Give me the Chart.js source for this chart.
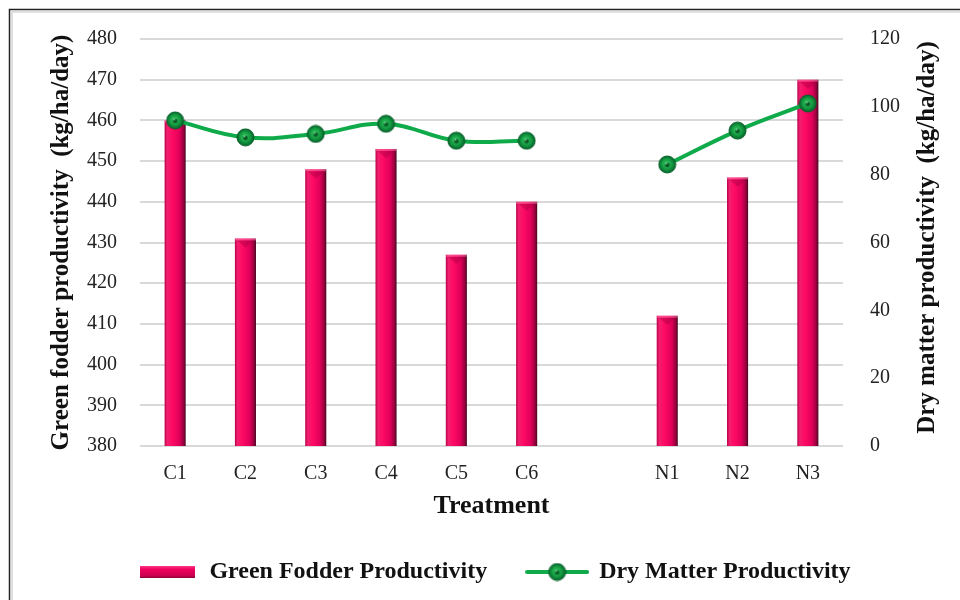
<!DOCTYPE html>
<html>
<head>
<meta charset="utf-8">
<script src="https://cdn.jsdelivr.net/npm/chart.js@4/dist/chart.umd.min.js"></script>
<style>
  html,body{margin:0;padding:0;background:#fff;}
  #wrap{width:960px;height:600px;position:relative;}
</style>
</head>
<body>
<div id="wrap"><canvas id="c" width="960" height="600"></canvas></div>
<script>
const categories = ['C1','C2','C3','C4','C5','C6','','N1','N2','N3'];
const greenFodder = [460,431,448,453,427,440,null,412,446,470];
const dryMatter = [96,91,92,95,90,90,null,83,93,101];
const leftRange = {min:380, max:480, step:10};
const rightRange = {min:0, max:120, step:20};
const seriesNames = ['Green Fodder Productivity','Dry Matter Productivity'];
const axisTitles = {x:'Treatment', y:'Green fodder productivity  (kg/ha/day)', y1:'Dry matter productivity  (kg/ha/day)'};

const SERIF = "'Liberation Serif','Times New Roman',serif";

function makePoint(r){
  const s = Math.ceil(r*2+2);
  const c = document.createElement('canvas'); c.width = s; c.height = s;
  const g = c.getContext('2d');
  const cx = s/2, cy = s/2;
  const rg = g.createRadialGradient(cx-1, cy-1, 1, cx, cy, r);
  rg.addColorStop(0,'#2fbf5c'); rg.addColorStop(0.6,'#12973f'); rg.addColorStop(1,'#06612a');
  g.fillStyle = rg; g.beginPath(); g.arc(cx,cy,r,0,Math.PI*2); g.fill();
  g.strokeStyle = '#07602a'; g.lineWidth = 1; g.stroke();
  g.fillStyle = '#0a5a26'; g.beginPath(); g.arc(cx,cy+0.5,2.3,0,Math.PI*2); g.fill();
  g.fillStyle = 'rgba(180,255,200,0.6)'; g.beginPath(); g.arc(cx-1,cy-1,1,0,Math.PI*2); g.fill();
  return c;
}
const pointImg = makePoint(8.5);

function barGradient(g, x0, x1){
  const gr = g.createLinearGradient(x0,0,x1,0);
  gr.addColorStop(0,'#b8004a');
  gr.addColorStop(0.12,'#f0206e');
  gr.addColorStop(0.35,'#ff0a64');
  gr.addColorStop(0.7,'#e0005a');
  gr.addColorStop(0.88,'#a00040');
  gr.addColorStop(1,'#4a0a22');
  return gr;
}

function legendBar(){
  const c = document.createElement('canvas'); c.width = 55; c.height = 14;
  const g = c.getContext('2d');
  const gr = g.createLinearGradient(0,0,0,14);
  gr.addColorStop(0,'#ff4d8f'); gr.addColorStop(0.3,'#f0005f'); gr.addColorStop(0.8,'#c8004f'); gr.addColorStop(1,'#5a0a28');
  g.fillStyle = gr; g.fillRect(0,1,55,12);
  return c;
}
function legendLine(){
  const c = document.createElement('canvas'); c.width = 64; c.height = 20;
  const g = c.getContext('2d');
  g.strokeStyle = '#0faa4a'; g.lineWidth = 4; g.lineCap='round';
  g.beginPath(); g.moveTo(2,10); g.lineTo(62,10); g.stroke();
  g.drawImage(pointImg, 32 - pointImg.width/2, 10 - pointImg.height/2);
  return c;
}
const legBarImg = legendBar();
const legLineImg = legendLine();

const frame = {
  id:'frame',
  beforeDraw(chart){
    const g = chart.ctx; g.save();
    g.fillStyle = '#fff'; g.fillRect(0,0,chart.width,chart.height);
    g.strokeStyle = '#222'; g.lineWidth = 1.5;
    g.strokeRect(9.5, 9.5, 1000, 1000);
    g.strokeStyle = 'rgba(0,0,0,0.12)'; g.lineWidth = 2;
    g.beginPath(); g.moveTo(11, 12); g.lineTo(960, 12); g.moveTo(12,11); g.lineTo(12,600); g.stroke();
    g.restore();
  },
  afterDraw(chart){
    const g = chart.ctx; const a = chart.chartArea;
    g.save();
    g.translate(chart.width - 32, (a.top + a.bottom)/2 - 5);
    g.rotate(-Math.PI/2);
    g.font = "bold 25px " + SERIF;
    g.fillStyle = '#111'; g.textAlign = 'center'; g.textBaseline = 'middle';
    g.fillText(axisTitles.y1, 0, 0);
    g.restore();
  }
};

const barTops = {
  id:'barTops',
  afterDatasetDraw(chart, args){
    if (args.index !== 1) return;
    const g = chart.ctx; const meta = args.meta;
    g.save();
    meta.data.forEach((el, i) => {
      if (greenFodder[i] == null) return;
      const p = el.getProps(['x','y','width','base'], true);
      const l = p.x - p.width/2, r = p.x + p.width/2;
      g.fillStyle = 'rgba(255,120,170,0.55)';
      g.fillRect(l, p.y, p.width, 2);
      g.fillStyle = 'rgba(150,0,60,0.35)';
      g.beginPath(); g.moveTo(l+2, p.y+2); g.lineTo(r-2, p.y+2); g.lineTo(p.x, p.y+9); g.closePath(); g.fill();
      g.fillStyle = 'rgba(120,0,50,0.35)';
      g.beginPath(); g.moveTo(l+2, p.base); g.lineTo(r-2, p.base); g.lineTo(p.x, p.base-6); g.closePath(); g.fill();
    });
    g.restore();
  }
};

new Chart(document.getElementById('c'), {
  data: {
    labels: categories,
    datasets: [
      {
        type:'line', label: seriesNames[1], data: dryMatter, yAxisID:'y1',
        borderColor:'#0faa4a', borderWidth:4, tension:0.4, spanGaps:false,
        pointStyle: pointImg, pointRadius:8.5, pointHoverRadius:8.5, order:0
      },
      {
        type:'bar', label: seriesNames[0], data: greenFodder, yAxisID:'y',
        barPercentage:0.3, categoryPercentage:1.0, order:1,
        backgroundColor:(ctx)=>{
          const chart = ctx.chart;
          if (!chart.chartArea || ctx.type !== 'data' || !chart.scales.x) return '#e6005c';
          const x = chart.scales.x.getPixelForValue(ctx.dataIndex);
          const w = chart.chartArea.width / categories.length * 0.3;
          return barGradient(chart.ctx, x - w/2, x + w/2);
        },
        borderWidth:0
      }
    ]
  },
  options: {
    responsive:false, animation:false,
    layout:{padding:{top:37, left:28, right:0, bottom:6}},
    plugins:{
      tooltip:{enabled:false},
      legend:{
        position:'bottom',
        labels:{
          font:{family:SERIF, size:24, weight:'bold'}, color:'#111',
          usePointStyle:true, pointStyleWidth:60, padding:10,
          generateLabels(){
            return [
              {text: seriesNames[0] + '\u2003 ', pointStyle: legBarImg, datasetIndex:1, fontColor:'#111', lineWidth:0, strokeStyle:'transparent', fillStyle:'transparent'},
              {text: seriesNames[1], pointStyle: legLineImg, datasetIndex:0, fontColor:'#111', lineWidth:0, strokeStyle:'transparent', fillStyle:'transparent'}
            ];
          }
        }
      }
    },
    scales:{
      x:{
        grid:{display:false, drawTicks:false}, border:{display:false},
        ticks:{font:{family:SERIF, size:20}, color:'#222', padding:16, maxRotation:0, autoSkip:false},
        title:{display:true, text:axisTitles.x, font:{family:SERIF, size:26, weight:'bold'}, color:'#111', padding:{top:0, bottom:28}},
        afterFit(s){ s.height = 104; }
      },
      y:{
        position:'left', min:leftRange.min, max:leftRange.max,
        ticks:{stepSize:leftRange.step, font:{family:SERIF, size:20}, color:'#222', padding:23},
        grid:{color:'#d9d9d9', lineWidth:2, drawTicks:false}, border:{display:false},
        title:{display:true, text:axisTitles.y, font:{family:SERIF, size:25, weight:'bold'}, color:'#111', padding:{top:19, bottom:0}},
        afterFit(s){ s.width = 112; }
      },
      y1:{
        position:'right', min:rightRange.min, max:rightRange.max,
        ticks:{stepSize:rightRange.step, font:{family:SERIF, size:20}, color:'#222', padding:27},
        grid:{display:false, drawTicks:false}, border:{display:false},
        title:{display:false, text:axisTitles.y1},
        afterFit(s){ s.width = 117; }
      }
    }
  },
  plugins:[frame, barTops]
});
</script>
</body>
</html>
